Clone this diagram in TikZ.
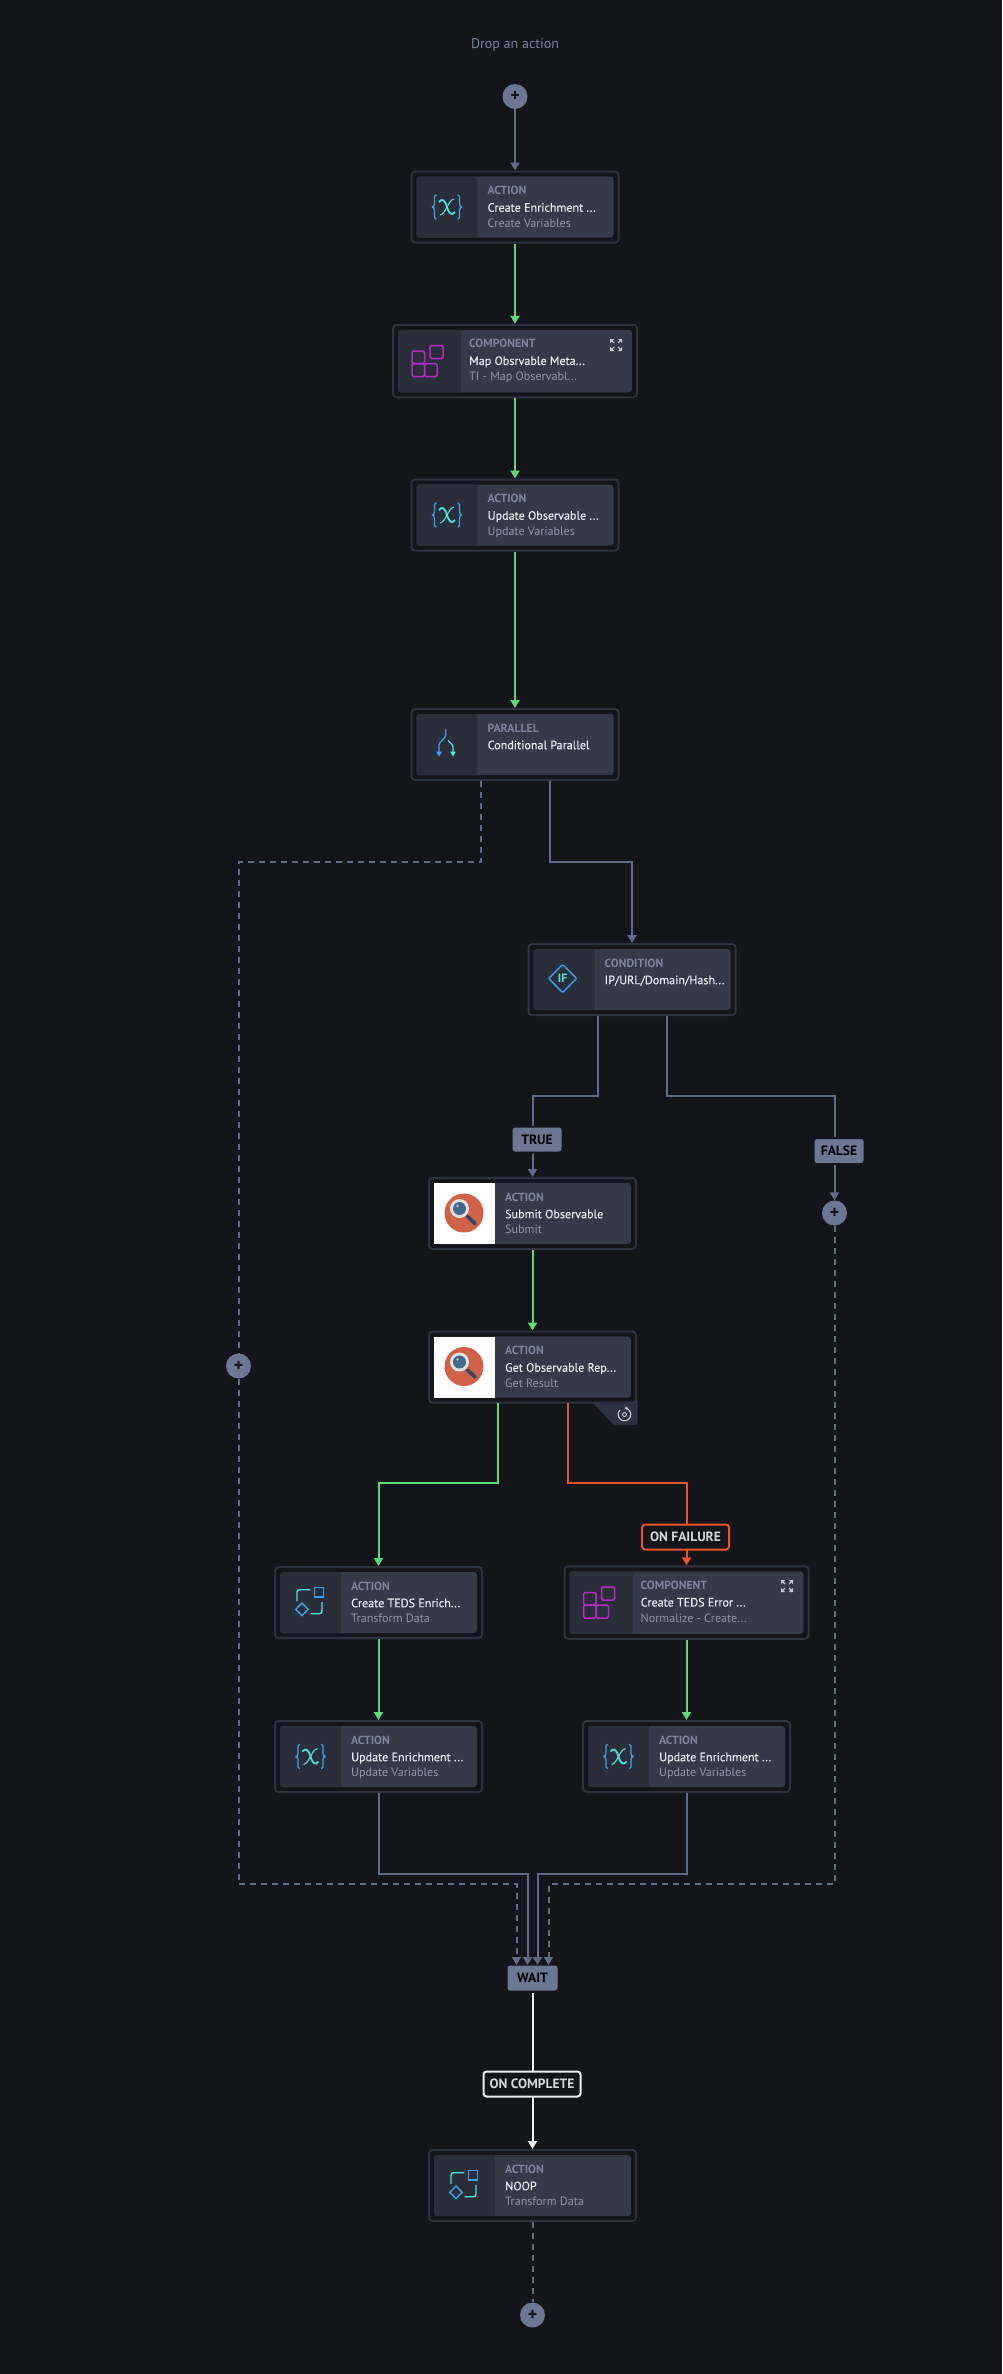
\documentclass[tikz,border=0pt]{standalone}
\usepackage{fontspec}
\setmainfont{PT Sans}
\newfontfamily\cardtitlefont[FakeBold=0.25]{PT Sans}
\usepackage{xcolor}
\usetikzlibrary{arrows.meta, positioning, calc}

\definecolor{canvas}{HTML}{13151B}
\definecolor{cardedge}{HTML}{2D3240}
\definecolor{panelmain}{HTML}{343A48}
\definecolor{panelicon}{HTML}{2A2E39}
\definecolor{slateline}{HTML}{5F6B85}
\definecolor{slatefill}{HTML}{6B7793}
\definecolor{okgreen}{HTML}{5CDB74}
\definecolor{failred}{HTML}{E8532A}
\definecolor{softwhite}{HTML}{EDEEF0}
\definecolor{kindtext}{HTML}{7C849B}
\definecolor{subtext}{HTML}{8F95A8}
\definecolor{titletext}{HTML}{E8EAEE}
\definecolor{iconblue}{HTML}{3E9FEF}
\definecolor{iconcyan}{HTML}{4FE3DC}
\definecolor{iconpurple}{HTML}{B22BC6}
\definecolor{lensred}{HTML}{D2614A}
\definecolor{lensring}{HTML}{DEE2E3}
\definecolor{lensglass}{HTML}{3F6A8C}
\definecolor{lenshandle}{HTML}{2F4A60}

\tikzset{
	>={Triangle[length=8pt,width=9pt]},
	cardouter/.style={draw=cardedge, line width=2pt, fill=canvas, rounded corners=3.5pt, inner sep=0pt},
	cardpanel/.style={fill=panelmain, rounded corners=3pt, inner sep=0pt, outer sep=0pt},
	cardkind/.style={anchor=base west, inner sep=0pt, text=kindtext, font=\fontsize{11.8}{14}\selectfont\bfseries},
	cardtitle/.style={anchor=base west, inner sep=0pt, text=titletext, font=\fontsize{12.1}{14}\selectfont\cardtitlefont},
	cardsub/.style={anchor=base west, inner sep=0pt, text=subtext, font=\fontsize{12.1}{14}\selectfont},
	slatelink/.style={draw=slateline, line width=2pt},
	slatedash/.style={slatelink, dash pattern=on 6pt off 5pt},
	greenlink/.style={draw=okgreen, line width=2pt},
	redlink/.style={draw=failred, line width=2pt},
	whitelink/.style={draw=softwhite, line width=2pt},
	plusbtn/.style={circle, fill=slatefill, minimum size=25pt, inner sep=0pt, text=canvas, font=\fontsize{18}{18}\selectfont\bfseries},
	slatetag/.style={draw=canvas, line width=2pt, fill=slatefill, rounded corners=3pt, inner sep=0pt, minimum height=26pt, text=black, font=\fontsize{13.5}{15}\selectfont\bfseries},
	linetag/.style={fill=canvas, line width=2pt, rounded corners=3pt, inner sep=0pt, minimum height=25pt, text=softwhite!90!black, font=\fontsize{13.5}{15}\selectfont\bfseries},
	varicon/.pic={
		\draw[iconblue, line width=1.2pt, rounded corners=1.5pt] (-10.5,-12) -- (-12.5,-12) -- (-12.5,-1.2) -- (-14.5,0) -- (-12.5,1.2) -- (-12.5,12) -- (-10.5,12);
		\draw[iconblue, line width=1.2pt, rounded corners=1.5pt] (10.5,-12) -- (12.5,-12) -- (12.5,-1.2) -- (14.5,0) -- (12.5,1.2) -- (12.5,12) -- (10.5,12);
		\draw[iconcyan, line width=1.8pt] (-8,-5) .. controls (-5,-9) and (-2,-7) .. (0,0) .. controls (2,7) and (5,9) .. (8,5);
		\draw[iconcyan, line width=1.1pt] (7,-8) .. controls (3,-7) and (2,-3) .. (0,0) .. controls (-2,3) and (-3,7) .. (-7,8);
	},
	blockicon/.pic={
		\draw[iconpurple, line width=1.5pt, rounded corners=1.5pt] (-17.5,-10) rectangle (-5,2.5);
		\draw[iconpurple, line width=1.5pt, rounded corners=1.5pt] (-17.5,2.5) rectangle (-5,15.5);
		\draw[iconpurple, line width=1.5pt, rounded corners=1.5pt] (-5,2.5) rectangle (7.5,15.5);
		\draw[iconpurple, line width=1.5pt, rounded corners=1.5pt] (0.5,-15.5) rectangle (13.5,-2.5);
	},
	mapicon/.pic={
		\draw[iconcyan, line width=1.4pt, rounded corners=2.5pt] (-13.5,-1.5) -- (-13.5,-12.8) -- (-0.2,-12.8);
		\draw[iconcyan, line width=1.4pt, rounded corners=2.5pt] (11.5,-0.5) -- (11.5,11.2) -- (0,11.2);
		\draw[iconblue, line width=1.4pt] (3.8,-14.8) rectangle (13.2,-5.5);
		\draw[iconblue, line width=1.4pt] (-8.5,0.5) -- (-2.2,6.8) -- (-8.5,13.1) -- (-14.8,6.8) -- cycle;
	},
	forkicon/.pic={
		\draw[iconblue, line width=1.3pt, rounded corners=1.5pt] (-1.2,-15.2) -- (-1.2,-8) -- (-8,-1) -- (-8,8);
		\draw[iconcyan, line width=1.3pt, rounded corners=1.5pt] (1,-4) -- (6,1) -- (6,8);
		\fill[iconblue] (-11,7) -- (-5,7) -- (-8,12) -- cycle;
		\fill[iconcyan] (3,7) -- (9,7) -- (6,12) -- cycle;
	},
	ificon/.pic={
		\draw[iconblue, line width=1.4pt, rounded corners=1pt] (-1.3,-15) -- (12.7,-1) -- (-1.3,13) -- (-15.3,-1) -- cycle;
		\node[inner sep=0pt, text=iconcyan, font=\fontsize{12}{12}\selectfont\bfseries] (iftext) at (-1.3,-1) {IF};
	},
	lensicon/.pic={
		\fill[white] (-30.5,-30.5) rectangle (30.5,30.5);
		\fill[lensred] (-0.5,-0.5) circle (19.5);
		\draw[line width=3.6pt, draw=lenshandle, line cap=round] (3,3) -- (10.5,10);
		\fill[lensring] (-5,-5) circle (9.5);
		\fill[lensglass] (-5,-5) circle (6.5);
		\fill[lensring!70!lensglass] (-7,-7.5) circle (1.4);
	},
}

% name, centre, width, height, icon panel width, icon, kind, title, sub
\newcommand{\flowcard}[9]{%
	\node[cardouter, minimum width=#3-2, minimum height=#4-2] (#1) at (#2) {};
	\node[cardpanel, minimum width=#3-12, minimum height=#4-12] (#1panel) at (#1) {};
	\fill[panelicon, rounded corners=3pt] ($(#1.north west)+(#5,6)$) [sharp corners] -- ($(#1.north west)+(#5,6)$) [rounded corners=3pt] -- ($(#1.north west)+(6,6)$) -- ($(#1.south west)+(6,-6)$) [sharp corners] -- ($(#1.south west)+(#5,-6)$) -- cycle;
	\path ($(#1.west)+({(#5+6)/2},0)$) pic {#6};
	\node[cardkind] (#1kind) at ($(#1.north west)+(77,24.1)$) {#7};
	\node[cardtitle] (#1title) at ($(#1.north west)+(77,41.2)$) {#8};
	\if\relax\detokenize{#9}\relax\else
	\node[cardsub] (#1sub) at ($(#1.north west)+(77,56.9)$) {#9};
	\fi
}
% small corner arrows of a component card
\newcommand{\expandmark}[1]{%
	\foreach \sx/\sy in {1/1, 1/-1, -1/1, -1/-1} {
		\fill[softwhite!85!black] ($(#1)+(6*\sx,6*\sy)$) -- ($(#1)+(1.8*\sx,6*\sy)$) -- ($(#1)+(6*\sx,1.8*\sy)$) -- cycle;
		\draw[softwhite!85!black, line width=1.1pt] ($(#1)+(4.5*\sx,4.5*\sy)$) -- ($(#1)+(2*\sx,2*\sy)$);
	}
}

\begin{document}
\begin{tikzpicture}[x=1pt, y=-1pt]
	\path[use as bounding box, fill=canvas] (-0.5,0) rectangle (1001.5,2374);

	\node[text=kindtext, inner sep=0pt, font=\fontsize{14}{16}\selectfont] (drop) at (514.5,45.2) {Drop an action};

	% extra tab of the retried action
	\fill[cardedge, rounded corners=3pt] (590,1400) -- (613,1425) -- (637,1425) -- (637,1398) -- cycle;

	\flowcard{create}{514.5,207}{209}{73}{67}{varicon}{ACTION}{Create Enrichment ...}{Create Variables}
	\flowcard{mapmeta}{514.5,361}{246}{74.5}{69}{blockicon}{COMPONENT}{Map Obsrvable Meta...}{TI - Map Observabl...}
	\flowcard{updobs}{514.5,515}{209}{73}{67}{varicon}{ACTION}{Update Observable ...}{Update Variables}
	\flowcard{parallel}{514.5,744.5}{209}{73}{67}{forkicon}{PARALLEL}{Conditional Parallel}{}
	\flowcard{cond}{631.5,979.5}{209}{73}{67}{ificon}{CONDITION}{IP/URL/Domain/Hash...}{}
	\flowcard{submit}{532,1213.5}{209}{73}{67}{lensicon}{ACTION}{Submit Observable}{Submit}
	\flowcard{getrep}{532,1367}{209}{73}{67}{lensicon}{ACTION}{Get Observable Rep...}{Get Result}
	\flowcard{tedsok}{378,1602.5}{209}{73}{67}{mapicon}{ACTION}{Create TEDS Enrich...}{Transform Data}
	\flowcard{tedserr}{686,1602.5}{246}{74.5}{69}{blockicon}{COMPONENT}{Create TEDS Error ...}{Normalize - Create...}
	\flowcard{updleft}{378,1756.5}{209}{73}{67}{varicon}{ACTION}{Update Enrichment ...}{Update Variables}
	\flowcard{updright}{686,1756.5}{209}{73}{67}{varicon}{ACTION}{Update Enrichment ...}{Update Variables}
	\flowcard{noop}{532,2185.5}{209}{73}{67}{mapicon}{ACTION}{NOOP}{Transform Data}

	\expandmark{615.7,345}
	\expandmark{786.5,1586}

	% retry mark
	\draw[softwhite!80!black, line width=1.2pt, ->, >={Triangle[length=3pt,width=4pt]}] (619.5,1410) arc (225:-90:6.3);
	\draw[softwhite!80!black, line width=1pt] (624,1414.5) circle (2);

	\node[plusbtn] (plustop) at (514.5,96.5) {+};
	\node[plusbtn] (plusleft) at (238,1366) {+};
	\node[plusbtn] (plusright) at (834,1213) {+};
	\node[plusbtn] (plusend) at (532,2315) {+};

	\node[slatetag, minimum width=52pt, minimum height=27pt] (wait) at (532,1978) {WAIT};

	\coordinate (pardash) at (480,781);
	\coordinate (parsolid) at (549,781);
	\coordinate (bendleft) at (238,862);
	\coordinate (bendcond) at (631.5,862);
	\coordinate (condtrue) at (597,1016);
	\coordinate (condfalse) at (666,1016);
	\coordinate (bendtrue) at (532,1096);
	\coordinate (bendfalse) at (834,1096);
	\coordinate (getok) at (497,1403);
	\coordinate (getfail) at (567,1403);
	\coordinate (bendok) at (378,1483);
	\coordinate (bendfail) at (686,1483);
	\coordinate (waitfarleft) at (516,1965);
	\coordinate (waitleft) at (527,1965);
	\coordinate (waitright) at (537,1965);
	\coordinate (waitfarright) at (548,1965);
	\coordinate (dashleft) at (238,1884);
	\coordinate (dashright) at (834,1884);
	\coordinate (joinleft) at (378,1874);
	\coordinate (joinright) at (686,1874);

	\draw[slatelink, ->] (plustop) -- (create);
	\draw[greenlink, ->] (create) -- (mapmeta);
	\draw[greenlink, ->] (mapmeta) -- (updobs);
	\draw[greenlink, ->] (updobs) -- (parallel);

	\draw[slatedash] (pardash) |- (bendleft) -- (plusleft);
	\draw[slatedash, ->] (plusleft) -- (dashleft) -| (waitfarleft);
	\draw[slatelink, ->] (parsolid) |- (bendcond) -- (cond);

	\draw[slatelink, ->] (condtrue) |- (bendtrue) -- (submit);
	\draw[slatelink, ->] (condfalse) |- (bendfalse) -- (plusright);
	\draw[slatedash, ->] (plusright) -- (dashright) -| (waitfarright);

	\draw[greenlink, ->] (submit) -- (getrep);
	\draw[greenlink, ->] (getok) |- (bendok) -- (tedsok);
	\draw[redlink, ->] (getfail) |- (bendfail) -- (tedserr);
	\draw[greenlink, ->] (tedsok) -- (updleft);
	\draw[greenlink, ->] (tedserr) -- (updright);
	\draw[slatelink, ->] (updleft) -- (joinleft) -| (waitleft);
	\draw[slatelink, ->] (updright) -- (joinright) -| (waitright);
	\draw[whitelink, ->] (wait) -- (noop);
	\draw[slatedash] (noop) -- (plusend);

	\node[slatetag, minimum width=51pt] (tagtrue) at (536.5,1139.5) {TRUE};
	\node[slatetag, minimum width=51pt] (tagfalse) at (838.5,1151) {FALSE};
	\node[linetag, draw=failred, minimum width=87pt] (tagfail) at (685,1537) {ON FAILURE};
	\node[linetag, draw=softwhite, minimum width=97pt] (tagdone) at (531.5,2084) {ON COMPLETE};
\end{tikzpicture}
\end{document}
